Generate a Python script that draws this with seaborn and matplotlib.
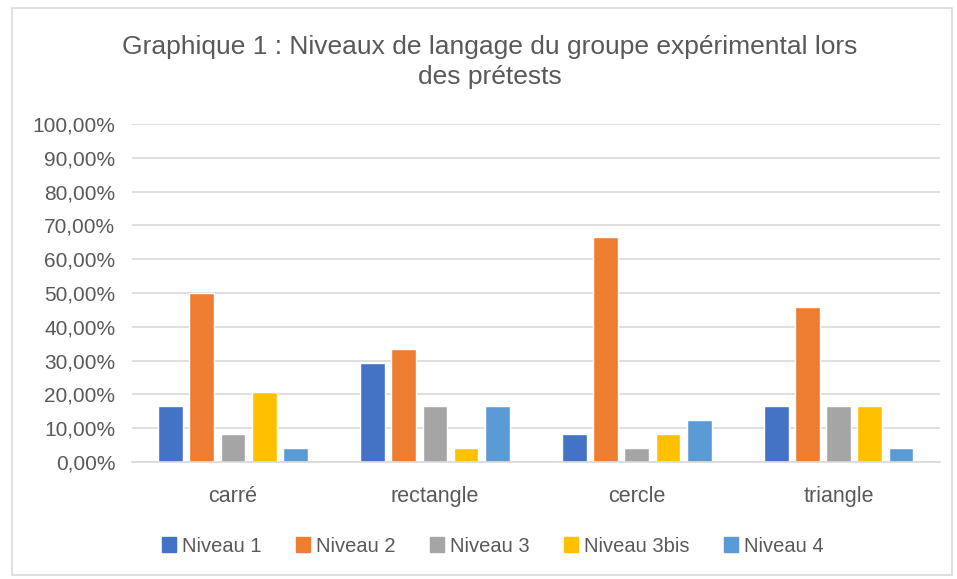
import numpy as np
import pandas as pd
import matplotlib
matplotlib.use("Agg")
import matplotlib.pyplot as plt
import seaborn as sns
from matplotlib.patches import Rectangle
from matplotlib.ticker import FuncFormatter, MultipleLocator

formes = ["carré", "rectangle", "cercle", "triangle"]
niveaux = ["Niveau 1", "Niveau 2", "Niveau 3", "Niveau 3bis", "Niveau 4"]
niveau_1 = [0.1667, 0.2917, 0.0833, 0.1667]
niveau_2 = [0.5000, 0.3333, 0.6667, 0.4583]
niveau_3 = [0.0833, 0.1667, 0.0417, 0.1667]
niveau_3bis = [0.2083, 0.0417, 0.0833, 0.1667]
niveau_4 = [0.0417, 0.1667, 0.1250, 0.0417]
couleurs = ["#4472C4", "#ED7D31", "#A5A5A5", "#FFC000", "#5B9BD5"]

rows = []
for niv, vals in zip(niveaux, [niveau_1, niveau_2, niveau_3, niveau_3bis, niveau_4]):
    for f, v in zip(formes, vals):
        rows.append({"forme": f, "niveau": niv, "part": v})
df = pd.DataFrame(rows)

sns.set_style("white")
plt.rcParams["font.family"] = ["Liberation Sans", "DejaVu Sans"]
txt = "#595959"

fig = plt.figure(figsize=(9.57, 5.79), dpi=100)
ax = fig.add_axes([0.138, 0.202, 0.844, 0.584])

sns.barplot(data=df, x="forme", y="part", hue="niveau", order=formes,
            hue_order=niveaux, palette=couleurs, width=0.77, gap=0.2,
            saturation=1, ax=ax, legend=True)

ax.set_ylim(0, 1)
ax.yaxis.set_major_locator(MultipleLocator(0.1))
ax.yaxis.set_major_formatter(FuncFormatter(lambda v, p: f"{v*100:.2f}%".replace(".", ",")))
ax.grid(axis="y", color="#D9D9D9", linewidth=1.2)
ax.set_axisbelow(True)
for s in ["top", "right", "left"]:
    ax.spines[s].set_visible(False)
ax.spines["bottom"].set_color("#D9D9D9")
ax.spines["bottom"].set_linewidth(1.2)
ax.tick_params(axis="x", length=0, labelsize=15.5, colors=txt, pad=17)
ax.tick_params(axis="y", length=0, labelsize=15, colors=txt, pad=12)
ax.set_xlabel("")
ax.set_ylabel("")

ax.get_legend().remove()
handles = [Rectangle((0, 0), 1, 1, color=c) for c in couleurs]
fig.legend(handles, niveaux, loc="center", bbox_to_anchor=(0.515, 1 - 546 / 579),
           ncol=5, frameon=False, fontsize=14.5, labelcolor=txt, handlelength=0.7,
           handleheight=0.7, handletextpad=0.3, columnspacing=1.7)

fig.text(0.512, 1 - 62 / 579, "Graphique 1 : Niveaux de langage du groupe expérimental lors\ndes prétests",
         ha="center", va="center", fontsize=19, color=txt, linespacing=1.3)

fig.patches.append(Rectangle((12 / 957, 1 - 575 / 579), 940 / 957, 567 / 579,
                             transform=fig.transFigure, fill=False,
                             edgecolor="#D9D9D9", linewidth=1.2))

fig.savefig("out.png", dpi=100)
